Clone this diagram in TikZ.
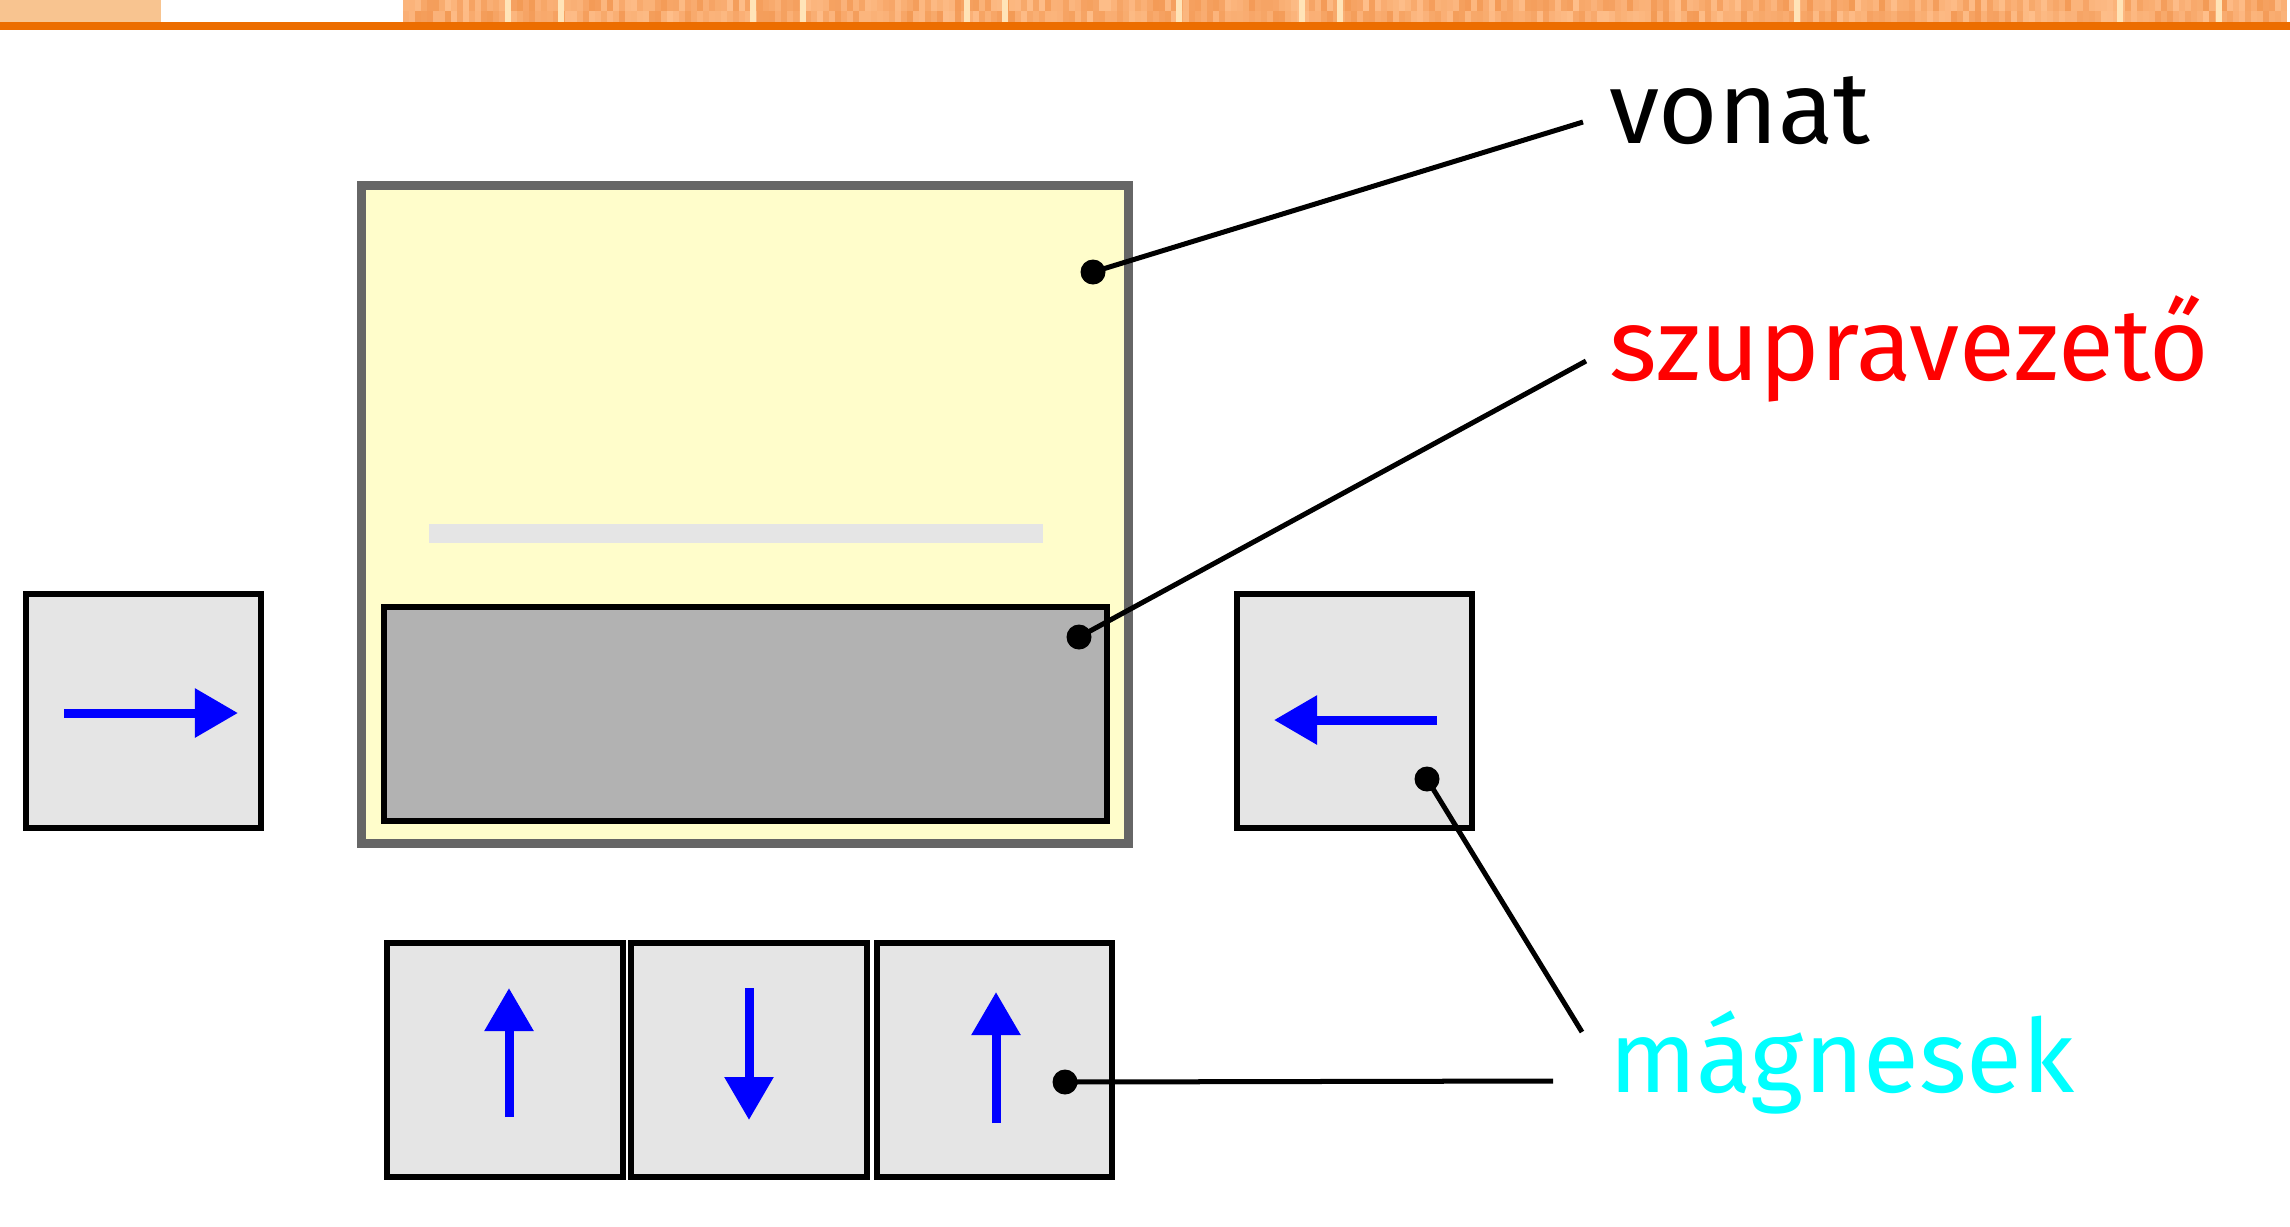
\documentclass[tikz,border=0pt]{standalone}
\usepackage{fontspec}
\setmainfont{Fira Sans}
\usetikzlibrary{arrows.meta}
\definecolor{peach}{HTML}{F8C490}
\definecolor{barlight}{HTML}{FFC290}
\definecolor{bardark}{HTML}{F29650}
\definecolor{barpale}{HTML}{FFE4B8}
\definecolor{orangeline}{HTML}{EC6D00}
\definecolor{trainfill}{HTML}{FFFDCB}
\definecolor{trainedge}{HTML}{666666}
\definecolor{scfill}{HTML}{B2B2B2}
\definecolor{magfill}{HTML}{E5E5E5}
\definecolor{fieldblue}{HTML}{0000FF}
\definecolor{labred}{HTML}{FF0000}
\definecolor{labcyan}{HTML}{00FFFF}
\tikzset{
  magnet/.style={draw=black, fill=magfill, line width=0.06cm, minimum width=2.35cm, minimum height=2.34cm, inner sep=0pt, outer sep=0pt},
  trainbox/.style={draw=trainedge, fill=trainfill, line width=0.09cm, minimum width=7.67cm, minimum height=6.58cm, inner sep=0pt, outer sep=0pt},
  scbox/.style={draw=black, fill=scfill, line width=0.06cm, minimum width=7.23cm, minimum height=2.14cm, inner sep=0pt, outer sep=0pt},
  stripbox/.style={fill=magfill, minimum width=6.14cm, minimum height=0.19cm, inner sep=0pt, outer sep=0pt},
  field/.style={draw=fieldblue, line width=0.09cm, -{Triangle[length=0.43cm,width=0.47cm]}},
  leader/.style={draw=black, line width=0.05cm},
  lbl/.style={anchor=base west, inner sep=0pt, outer sep=0pt, font=\fontsize{29}{35}\selectfont}
}
\begin{document}
\begin{tikzpicture}[x=0.01cm,y=-0.01cm]
\useasboundingbox (0,0) rectangle (2290,1226);
\fill[white] (0,0) rectangle (2290,1226);
% top bar
\fill[peach] (0,0) rectangle (161,22);
\pgfmathsetseed{11}
\foreach \i in {0,...,313} {
  \pgfmathsetmacro\xa{403+\i*6}
  \pgfmathrandominteger{\ra}{10}{90}
  \pgfmathrandominteger{\rb}{10}{90}
  \colorlet{cella}{barlight!\ra!bardark}
  \colorlet{cellb}{barlight!\rb!bardark}
  \fill[cella] (\xa,0) rectangle (\xa+6.3,11);
  \fill[cellb] (\xa,11) rectangle (\xa+6.3,22);
}
\foreach \xs in {505,558,750,800,964,1002,1176,1299,1337,1794,2117,2216} {
  \fill[barpale] (\xs,0) rectangle (\xs+6,22);
}
\fill[orangeline] (0,22) rectangle (2290,30);
% magnets
\node[magnet] (mL) at (143.5,711) {};
\node[magnet] (mR) at (1354.5,711) {};
\node[magnet] (mB1) at (505,1060) {};
\node[magnet] (mB2) at (749,1060) {};
\node[magnet] (mB3) at (994.5,1060) {};
% train
\node[trainbox] (train) at (745,514.5) {};
\node[stripbox] (strip) at (736,533.5) {};
\node[scbox] (sc) at (745.5,714) {};
% field arrows
\draw[field] (64,713) -- (238,713);
\draw[field] (1437,720) -- (1274,720);
\draw[field] (509,1117) -- (509,988);
\draw[field] (749,988) -- (749,1120);
\draw[field] (996,1123) -- (996,992);
% labels
\node[lbl] (vonat) at (1609,143) {vonat};
\node[lbl, text=labred] (szup) at (1609,380) {szupravezető};
\node[lbl, text=labcyan] (magn) at (1609,1092) {mágnesek};
% leaders
\coordinate (dV) at (1093,272);
\coordinate (eV) at (1583,122);
\coordinate (dS) at (1079,637);
\coordinate (eS) at (1586,361);
\coordinate (dM1) at (1427,779);
\coordinate (eM1) at (1582,1032);
\coordinate (dM2) at (1065,1082);
\coordinate (eM2) at (1553,1081);
\draw[leader] (dV) -- (eV);
\draw[leader] (dS) -- (eS);
\draw[leader] (dM1) -- (eM1);
\draw[leader] (dM2) -- (eM2);
\foreach \d in {dV,dS,dM1,dM2} { \fill[black] (\d) circle[radius=0.125cm]; }
\end{tikzpicture}
\end{document}
